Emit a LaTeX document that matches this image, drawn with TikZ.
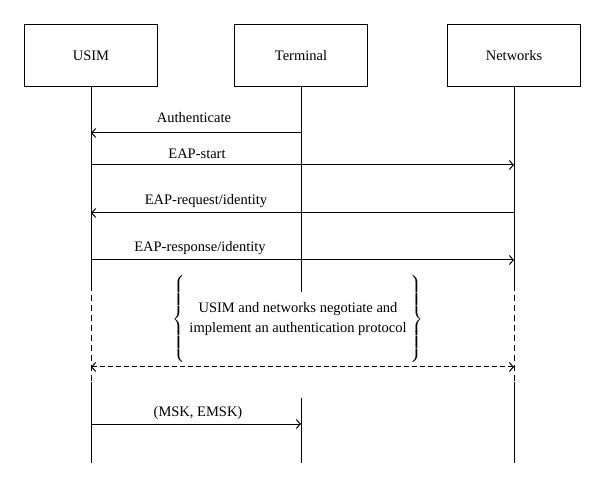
\documentclass[tikz,border=0pt]{standalone}
\usepackage{amsmath}
\usepackage{fontspec}
\setmainfont{Liberation Serif}
\usepackage{tikz}
\usetikzlibrary{arrows.meta}

\begin{document}
\begin{tikzpicture}[x=1pt,y=-1pt]

		\tikzstyle{entity}=[draw, rectangle, line width=1pt, minimum width=133pt, minimum height=62pt, font=\fontsize{14.5}{17}\selectfont]

		\tikzstyle{msgText}=[anchor=base, font=\fontsize{14.5}{17}\selectfont]

		\useasboundingbox (0,0) rectangle (600,486);

		\node[entity] (U) at (91,56) {USIM};
		\node[entity] (T) at (301,56) {Terminal};
		\node[entity] (N) at (514,56) {Networks};

		% lifeline break points
		\coordinate (U1) at (91,285);
		\coordinate (U2) at (91,382);
		\coordinate (U3) at (91,463);
		\coordinate (T1) at (301,292);
		\coordinate (T2) at (301,398);
		\coordinate (T3) at (301,463);
		\coordinate (N1) at (514,285);
		\coordinate (N2) at (514,382);
		\coordinate (N3) at (514,463);

		\tikzstyle{lifeline}=[line width=1pt]
		\tikzstyle{lifeDash}=[line width=1pt, dash pattern=on 6pt off 4pt]

		\draw[lifeline] (U)--(U1);
		\draw[lifeDash] (U1)--(U2);
		\draw[lifeline] (U2)--(U3);
		\draw[lifeline] (T)--(T1);
		\draw[lifeline] (T2)--(T3);
		\draw[lifeline] (N)--(N1);
		\draw[lifeDash] (N1)--(N2);
		\draw[lifeline] (N2)--(N3);

		% message end points
		\coordinate (uA) at (91,133);  \coordinate (tA) at (301,133);
		\coordinate (uB) at (91,165);  \coordinate (nB) at (514,165);
		\coordinate (uC) at (91,213);  \coordinate (nC) at (514,213);
		\coordinate (uD) at (91,260);  \coordinate (nD) at (514,260);
		\coordinate (uE) at (91,367);  \coordinate (nE) at (514,367);
		\coordinate (uF) at (91,424);  \coordinate (tF) at (301,424);

		\tikzstyle{msg}=[->, >={Straight Barb[length=4pt,width=9pt]}, line width=1pt]
		\tikzstyle{msgDash}=[<->, >={Straight Barb[length=4pt,width=9pt]}, line width=1pt, dash pattern=on 5pt off 3pt]

		\draw[msg] (tA)--(uA);
		\draw[msg] (uB)--(nB);
		\draw[msg] (nC)--(uC);
		\draw[msg] (uD)--(nD);
		\draw[msgDash] (uE)--(nE);
		\draw[msg] (uF)--(tF);

		\node[msgText] (lAuth) at (194,123) {Authenticate};
		\node[msgText] (lStart) at (197,159) {EAP-start};
		\node[msgText] (lReq) at (206,205) {EAP-request/identity};
		\node[msgText] (lResp) at (200,252) {EAP-response/identity};
		\node[msgText] (lKeys) at (198,416) {(MSK, EMSK)};

		\node[font=\fontsize{14.5}{20}\selectfont] (proto) at (298,319)
			{$\left\{\vcenter{\hbox{\rule{0pt}{88pt}}}\hspace{4pt}\vcenter{\hbox{\begin{tabular}{@{}c@{}}USIM and networks negotiate and\\implement an authentication protocol\end{tabular}}}\hspace{4pt}\right\}$};

	\end{tikzpicture}
\end{document}
